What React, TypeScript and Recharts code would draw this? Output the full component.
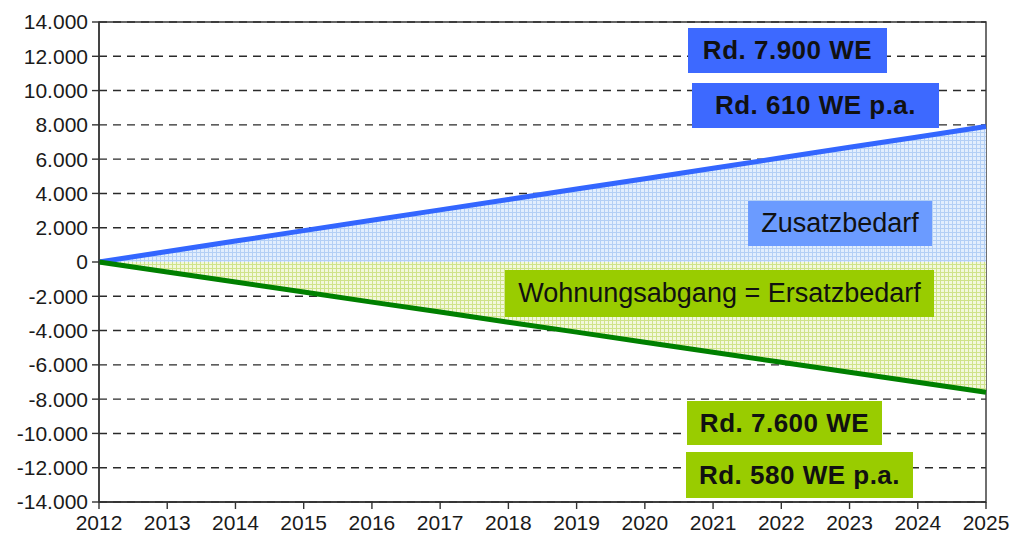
import React from 'react';
import {
  ComposedChart,
  Area,
  XAxis,
  YAxis,
  CartesianGrid,
  ReferenceArea,
} from 'recharts';

const years = [2012, 2013, 2014, 2015, 2016, 2017, 2018, 2019, 2020, 2021, 2022, 2023, 2024, 2025];
// kumulierter Zusatzbedarf (WE)
const zusatzbedarf = [0, 610, 1220, 1830, 2440, 3040, 3650, 4260, 4860, 5470, 6080, 6690, 7290, 7900];
// kumulierter Wohnungsabgang = Ersatzbedarf (WE)
const ersatzbedarf = [0, -580, -1170, -1750, -2340, -2920, -3510, -4090, -4680, -5260, -5850, -6430, -7020, -7600];
const yTicks = [-14000, -12000, -10000, -8000, -6000, -4000, -2000, 0, 2000, 4000, 6000, 8000, 10000, 12000, 14000];

const labels = [
  { text: 'Rd. 7.900 WE', x: 688, y: 28, w: 199, h: 45, bg: '#3d69ff', bold: true },
  { text: 'Rd. 610 WE p.a.', x: 692, y: 83, w: 247, h: 45, bg: '#3d69ff', bold: true },
  { text: 'Zusatzbedarf', x: 748, y: 201, w: 184, h: 45, bg: '#6b9bff', bold: false },
  { text: 'Wohnungsabgang = Ersatzbedarf', x: 505, y: 270, w: 429, h: 47, bg: '#99cc00', bold: false },
  { text: 'Rd. 7.600 WE', x: 687, y: 401, w: 195, h: 44, bg: '#99cc00', bold: true },
  { text: 'Rd. 580 WE p.a.', x: 686, y: 452, w: 227, h: 46, bg: '#99cc00', bold: true },
];

const data = years.map((year, i) => ({
  year,
  zusatz: zusatzbedarf[i],
  ersatz: ersatzbedarf[i],
}));

const formatDe = (v: number) => {
  const abs = Math.abs(v).toString().replace(/\B(?=(\d{3})+(?!\d))/g, '.');
  return v < 0 ? `-${abs}` : abs;
};

const FONT = '"Liberation Sans", Arial, sans-serif';

export default function App() {
  return (
    <div style={{ position: 'absolute', left: 0, top: 0, width: 1012, height: 543, background: '#fff', fontFamily: FONT }}>
      <ComposedChart
        width={1012}
        height={543}
        data={data}
        margin={{ top: 22, right: 26, left: 0, bottom: 0 }}
      >
        <defs>
          <pattern id="blueHatch" width="4" height="4" patternUnits="userSpaceOnUse">
            <rect width="4" height="4" fill="#e2eefd" />
            <path d="M0 0.5 H4 M0.5 0 V4" stroke="#b3cff5" strokeWidth="1" />
          </pattern>
          <pattern id="greenHatch" width="4" height="4" patternUnits="userSpaceOnUse">
            <rect width="4" height="4" fill="#f2f8dc" />
            <path d="M0 0.5 H4 M0.5 0 V4" stroke="#cfe38a" strokeWidth="1" />
          </pattern>
        </defs>
        <CartesianGrid vertical={false} stroke="#2a2a2a" strokeDasharray="8 6" strokeWidth={1.4} />
        <ReferenceArea x1={2012} x2={2025} y1={-14000} y2={14000} fill="none" stroke="#333" strokeWidth={1.4} />
        <XAxis
          dataKey="year"
          type="number"
          domain={[2012, 2025]}
          ticks={years}
          interval={0}
          height={41}
          tickSize={7}
          tickMargin={6}
          axisLine={{ stroke: '#333', strokeWidth: 1.4 }}
          tickLine={{ stroke: '#333', strokeWidth: 1.4 }}
          tick={{ fill: '#1a1a1a', fontSize: 21, fontFamily: FONT }}
        />
        <YAxis
          type="number"
          domain={[-14000, 14000]}
          ticks={yTicks}
          interval={0}
          width={99}
          tickSize={7}
          tickMargin={4}
          tickFormatter={formatDe}
          axisLine={{ stroke: '#333', strokeWidth: 1.4 }}
          tickLine={{ stroke: '#333', strokeWidth: 1.4 }}
          tick={{ fill: '#1a1a1a', fontSize: 21, fontFamily: FONT }}
        />
        <Area
          type="linear"
          dataKey="zusatz"
          baseValue={0}
          stroke="#3366ff"
          strokeWidth={5}
          fill="url(#blueHatch)"
          fillOpacity={1}
          dot={false}
          activeDot={false}
          isAnimationActive={false}
        />
        <Area
          type="linear"
          dataKey="ersatz"
          baseValue={0}
          stroke="#008000"
          strokeWidth={5}
          fill="url(#greenHatch)"
          fillOpacity={1}
          dot={false}
          activeDot={false}
          isAnimationActive={false}
        />
      </ComposedChart>
      {labels.map((l) => (
        <div
          key={l.text}
          style={{
            position: 'absolute',
            left: l.x,
            top: l.y,
            width: l.w,
            height: l.h,
            background: l.bg,
            color: '#111',
            fontFamily: FONT,
            fontWeight: l.bold ? 'bold' : 'normal',
            fontSize: l.bold ? 26 : 27,
            letterSpacing: l.bold ? 0.5 : 0,
            display: 'flex',
            alignItems: 'center',
            justifyContent: 'center',
            whiteSpace: 'nowrap',
          }}
        >
          {l.text}
        </div>
      ))}
    </div>
  );
}
